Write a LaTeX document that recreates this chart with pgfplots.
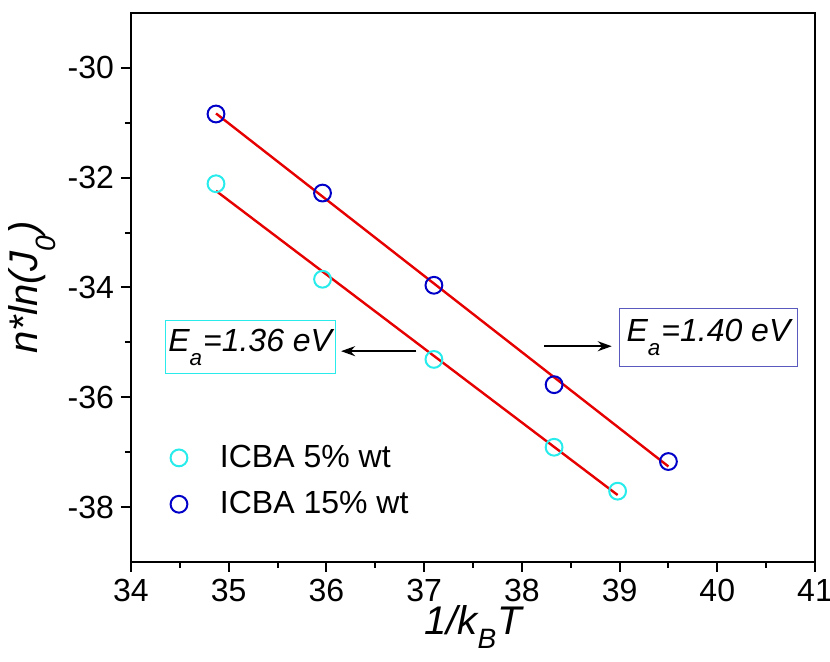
\documentclass[border=0pt]{standalone}
\usepackage{fontspec}
\setmainfont{Liberation Sans}
\usepackage{pgfplots}
\pgfplotsset{compat=1.18}
\usetikzlibrary{calc,arrows.meta}
\definecolor{cy}{RGB}{40,235,235}
\definecolor{bl}{RGB}{0,0,200}
\definecolor{fitred}{RGB}{230,0,0}
\definecolor{boxbl}{RGB}{90,90,190}
\newcommand{\lsub}[1]{\raisebox{-0.3em}{\textsubscript{#1}}}

\begin{document}
\begin{tikzpicture}
\begin{axis}[name=ax,
    width=342pt, height=274.5pt, scale only axis,
    xmin=34, xmax=41, ymin=-39, ymax=-29,
    xtick={34,...,41}, ytick={-38,-36,-34,-32,-30},
    minor xtick={34.5,35.5,...,40.5}, minor ytick={-37,-35,-33,-31},
    xtick pos=bottom, ytick pos=left, tick align=outside,
    major tick length=5pt, minor tick length=3pt,
    axis line style={line width=1pt},
    every tick/.style={black, line width=1pt},
    /pgf/number format/assume math mode=true,
    tick label style={font=\fontsize{16}{18}\selectfont},
    label style={font=\fontsize{20}{23}\selectfont\itshape},
    xlabel={1/k\raisebox{-0.2em}{\textsubscript{B}}T},
    ylabel={n*ln(J\lsub{0})},
    xlabel style={yshift=5pt},
    ylabel style={yshift=-1pt},
    legend style={draw=none, fill=none, at={(rel axis cs:0.04,0.228)}, anchor=north west,
        font=\fontsize{16}{19}\selectfont, row sep=6.5pt},
    legend cell align=left,
    legend image code/.code={
        \draw[#1] plot coordinates {(0.25cm,0cm)};
        \path[draw=none, fill=none] (0cm,0cm) -- (0.9cm,0cm);
    },
]
% measured points
\addplot[only marks, mark=o, mark size=4.2pt, color=cy, mark options={line width=1pt}] coordinates {
    (34.87,-32.11) (35.96,-33.85) (37.10,-35.31) (38.33,-36.91) (38.98,-37.71)
};
\addplot[only marks, mark=o, mark size=4.2pt, color=bl, mark options={line width=1pt}] coordinates {
    (34.87,-30.84) (35.96,-32.28) (37.10,-33.96) (38.33,-35.77) (39.50,-37.17)
};
% linear fits
\addplot[fitred, line width=1.2pt, forget plot] coordinates {(34.87,-32.24) (38.98,-37.78)};
\addplot[fitred, line width=1.2pt, forget plot] coordinates {(34.87,-30.83) (39.50,-37.26)};
\legend{ICBA 5\% wt, ICBA 15\% wt}

\node[draw=cy, line width=0.6pt, minimum width=85pt, minimum height=26.5pt, inner sep=1pt,
      font=\fontsize{16}{18}\selectfont\itshape] at (axis cs:35.22,-35.09) {E\lsub{a}=1.36 eV};
\node[draw=boxbl, line width=0.6pt, minimum width=89pt, minimum height=29pt, inner sep=1pt,
      font=\fontsize{16}{18}\selectfont\itshape] at (axis cs:39.91,-34.91) {E\lsub{a}=1.40 eV};
\draw[-{Stealth[length=7pt,width=5pt]}, line width=1pt] (axis cs:36.92,-35.16) -- (axis cs:36.15,-35.16);
\draw[-{Stealth[length=7pt,width=5pt]}, line width=1pt] (axis cs:38.23,-35.07) -- (axis cs:38.92,-35.07);
\end{axis}
\pgfresetboundingbox
\path[use as bounding box] ($(ax.south west)+(-65.5pt,-50pt)$) rectangle ($(ax.north east)+(7.5pt,6.5pt)$);
\end{tikzpicture}
\end{document}
